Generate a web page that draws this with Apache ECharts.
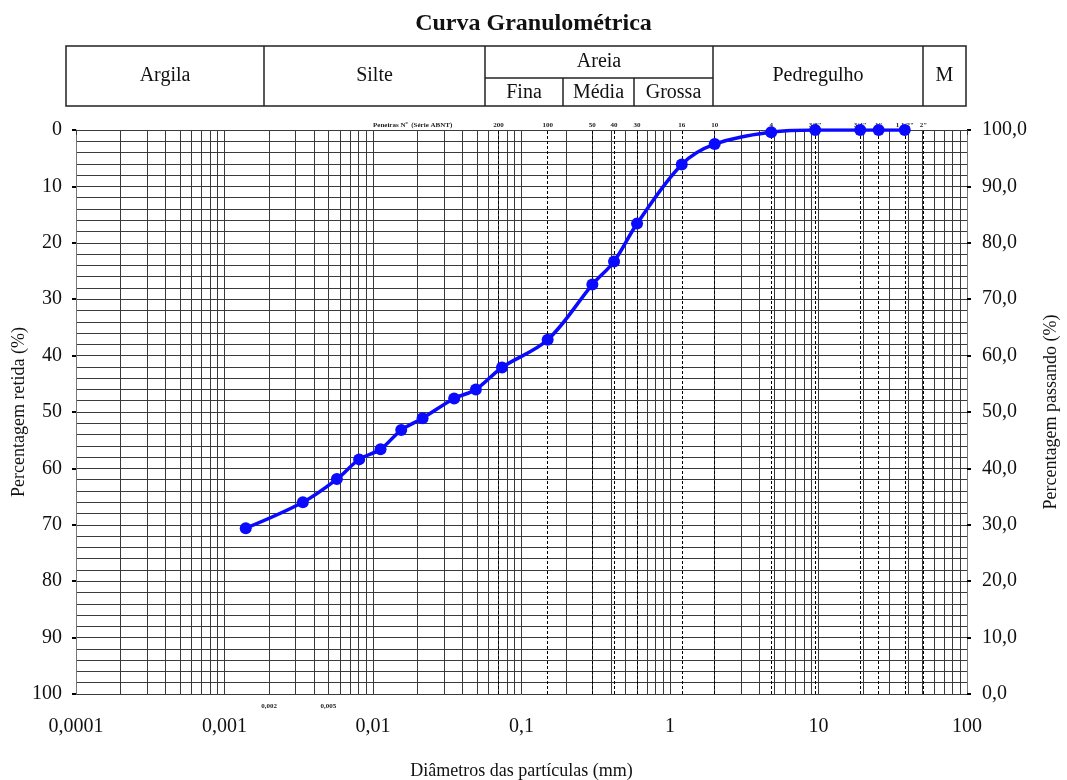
<!DOCTYPE html>
<html><head><meta charset="utf-8">
<script src="https://cdn.jsdelivr.net/npm/echarts@6/dist/echarts.min.js"></script>
<style>html,body{margin:0;padding:0;background:#fff}#c{width:1067px;height:780px}</style>
</head><body><div id="c"></div>
<script>
// ---- data ----
const diameters = [0.00139, 0.00337, 0.00571, 0.00807, 0.01124, 0.01549, 0.02157, 0.0352, 0.0493, 0.0739, 0.15, 0.3, 0.42, 0.6, 1.2, 2.0, 4.8, 9.5, 19.1, 25.4, 38.1];
const passing   = [29.4, 34.0, 38.1, 41.6, 43.4, 46.8, 48.9, 52.4, 54.0, 57.9, 62.8, 72.6, 76.7, 83.4, 93.9, 97.5, 99.6, 100, 100, 100, 100];
const sieveOpenings = [0.075, 0.15, 0.3, 0.42, 0.6, 1.2, 2.0, 4.8, 9.5, 19.1, 25.4, 38.1, 50.8];
const sieveNames = ['200', '100', '50', '40', '30', '16', '10', '4', '3/8"', '3/4"', '1"', '1 1/2"', '2"'];
const xTickLabels = ['0,0001', '0,001', '0,01', '0,1', '1', '10', '100'];
const smallMarks = [0.002, 0.005];
const smallMarkLabels = ['0,002', '0,005'];
const headerTopCells = ['Argila', 'Silte', 'Areia', 'Pedregulho', 'M'];
const headerSandCells = ['Fina', 'Média', 'Grossa'];

const FONT = 'Liberation Serif';
const GRID = '#3a3a3a';

const chart = echarts.init(document.getElementById('c'), null, {renderer: 'canvas'});

// header table (layout)
const hdr = {x0: 66, x1: 966, y0: 46, ym: 78, y1: 106, cuts: [264, 485, 713, 923], sand: [563, 634]};
function headerGraphic() {
  const g = [];
  const ls = {stroke: '#222', lineWidth: 1.5};
  g.push({type: 'rect', shape: {x: hdr.x0, y: hdr.y0, width: hdr.x1 - hdr.x0, height: hdr.y1 - hdr.y0}, style: {fill: 'none', stroke: '#222', lineWidth: 1.5}, silent: true});
  hdr.cuts.forEach(x => g.push({type: 'line', shape: {x1: x, y1: hdr.y0, x2: x, y2: hdr.y1}, style: ls, silent: true}));
  g.push({type: 'line', shape: {x1: hdr.cuts[1], y1: hdr.ym, x2: hdr.cuts[2], y2: hdr.ym}, style: ls, silent: true});
  hdr.sand.forEach(x => g.push({type: 'line', shape: {x1: x, y1: hdr.ym, x2: x, y2: hdr.y1}, style: ls, silent: true}));
  const edges = [hdr.x0].concat(hdr.cuts, [hdr.x1]);
  const txt = (t, x, y) => ({type: 'text', x: x, y: y, silent: true,
    style: {text: t, fill: '#111', font: '20px "' + FONT + '"', align: 'center', verticalAlign: 'middle'}});
  headerTopCells.forEach((t, i) => {
    const cx = (edges[i] + edges[i + 1]) / 2;
    const cy = i === 2 ? (hdr.y0 + hdr.ym) / 2 : (hdr.y0 + hdr.y1) / 2;
    g.push(txt(t, cx, cy));
  });
  const sEdges = [hdr.cuts[1]].concat(hdr.sand, [hdr.cuts[2]]);
  headerSandCells.forEach((t, i) => g.push(txt(t, (sEdges[i] + sEdges[i + 1]) / 2, (hdr.ym + hdr.y1) / 2 + 1)));
  g.push({type: 'text', x: 373, y: 129, silent: true,
    style: {text: 'Peneiras Nº  (Série ABNT)', fill: '#222', font: 'bold 7px "' + FONT + '"', align: 'left', verticalAlign: 'bottom'}});
  return g;
}

const option = {
  animation: false,
  backgroundColor: '#fff',
  textStyle: {fontFamily: FONT},
  title: {
    text: 'Curva Granulométrica', left: 'center', top: 7,
    textStyle: {fontFamily: FONT, fontSize: 24, fontWeight: 'bold', color: '#111'}
  },
  grid: {left: 76, right: 100, top: 130, bottom: 86, containLabel: false, outerBoundsMode: 'none'},
  xAxis: {
    type: 'log', logBase: 10, min: 0.0001, max: 100,
    name: 'Diâmetros das partículas (mm)', nameLocation: 'middle', nameGap: 68, nameMoveOverlap: false,
    nameTextStyle: {fontFamily: FONT, fontSize: 18, color: '#111'},
    axisLine: {show: true, lineStyle: {color: GRID, width: 1}},
    axisTick: {show: true, length: 5, lineStyle: {color: GRID}},
    minorTick: {show: true, splitNumber: 9, length: 5, lineStyle: {color: GRID}},
    axisLabel: {
      margin: 23, fontFamily: FONT, fontSize: 20, color: '#111',
      formatter: v => xTickLabels[Math.round(Math.log10(v)) + 4]
    },
    splitLine: {show: true, lineStyle: {color: GRID, width: 1}},
    minorSplitLine: {show: true, lineStyle: {color: GRID, width: 1}}
  },
  yAxis: [
    {
      type: 'value', inverse: true, min: 0, max: 100, interval: 10, position: 'left',
      name: 'Percentagem retida (%)', nameLocation: 'middle', nameGap: 48, nameMoveOverlap: false,
      nameTextStyle: {fontFamily: FONT, fontSize: 18, color: '#111'},
      axisLine: {show: true, lineStyle: {color: '#777', width: 1}},
      axisTick: {show: true, length: 4, lineStyle: {color: '#000', width: 2}},
      axisLabel: {margin: 14, fontFamily: FONT, fontSize: 20, color: '#111'},
      splitLine: {show: true, lineStyle: {color: GRID, width: 1}},
      minorTick: {show: false, splitNumber: 5},
      minorSplitLine: {show: true, lineStyle: {color: GRID, width: 1}}
    },
    {
      type: 'value', min: 0, max: 100, interval: 10, position: 'right',
      name: 'Percentagem passando (%)', nameLocation: 'middle', nameGap: 75,
      nameTextStyle: {fontFamily: FONT, fontSize: 18, color: '#111'},
      axisLine: {show: true, lineStyle: {color: '#777', width: 1}},
      axisTick: {show: true, length: 4, lineStyle: {color: '#000', width: 2}},
      axisLabel: {margin: 15, fontFamily: FONT, fontSize: 20, color: '#111',
        formatter: v => v.toFixed(1).replace('.', ',')},
      splitLine: {show: false}
    }
  ],
  series: [{
    type: 'line', xAxisIndex: 0, yAxisIndex: 1,
    data: diameters.map((d, i) => [d, passing[i]]),
    smooth: 0.35,
    symbol: 'circle', symbolSize: 12,
    itemStyle: {color: '#0a0aff'},
    lineStyle: {color: '#0a0aff', width: 3.5},
    z: 5,
    markLine: {
      silent: true, symbol: 'none', animation: false,
      lineStyle: {color: '#000', type: [3, 2], width: 1},
      label: {show: true, position: 'end', distance: 1, fontFamily: FONT, fontSize: 7, fontWeight: 'bold', color: '#222'},
      data: sieveOpenings.map((d, i) => ({xAxis: d, label: {formatter: sieveNames[i]}}))
    }
  }],
  graphic: headerGraphic()
};
chart.setOption(option);

// small diameter markers below the axis, positioned via the axis scale
const extra = smallMarks.map((d, i) => {
  const p = chart.convertToPixel({xAxisIndex: 0, yAxisIndex: 0}, [d, 100]);
  return {type: 'text', x: p[0], y: p[1] + 12, silent: true,
    style: {text: smallMarkLabels[i], fill: '#222', font: 'bold 7px "' + FONT + '"', align: 'center', verticalAlign: 'middle'}};
});
chart.setOption({graphic: headerGraphic().concat(extra)});
</script></body></html>
